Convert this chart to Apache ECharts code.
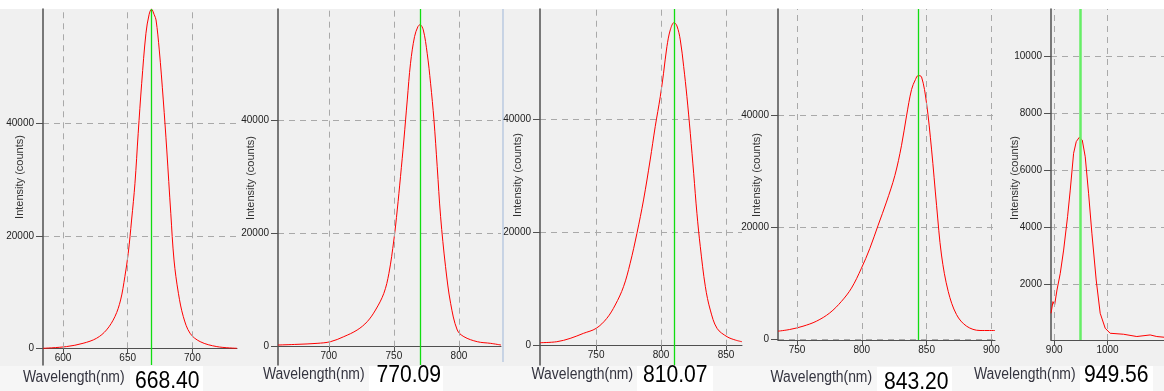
<!DOCTYPE html>
<html><head><meta charset="utf-8">
<script src="https://cdn.jsdelivr.net/npm/echarts@6/dist/echarts.min.js"></script>
<style>html,body{margin:0;padding:0;background:#fff}#c{width:1164px;height:391px}</style>
</head><body><div id="c"></div>
<script>
// ---------- data ----------
const peakWavelengths = [668.40, 770.09, 810.07, 843.20, 949.56];
const xAxisTitle = 'Wavelength(nm)';
const yAxisTitle = 'Intensity (counts)';

const spectrum1 = [[584.5,0],[602.6,300],[615.5,890],[625.9,1780],[633.6,3260],[640.1,5630],[644.5,8590],[647.8,12740],[650.4,16890],[653,22800],[655.6,29330],[658.1,38220],[660.8,47110],[664.1,56000],[666.5,59300],[668.4,60300],[670.5,59300],[671.9,58370],[674.4,53040],[677.5,44150],[680.2,35260],[683.3,24000],[685.8,15700],[689.2,9780],[693,5630],[698.2,2670],[706,1185],[718.9,300],[734.4,0]];
const spectrum2 = [[661,294],[675.6,412],[691,588],[701.3,880],[711.5,1765],[721.8,2940],[729.5,4410],[735.9,6470],[742.3,9410],[746.2,12940],[750,18820],[752.6,24120],[755.1,30000],[757.7,36470],[760.3,43530],[762.8,50000],[765.9,54700],[768.5,56470],[770.1,56800],[772.6,55880],[775.6,51760],[778.2,46470],[780.8,40000],[783.3,31760],[785.9,22940],[789.7,14120],[793.6,7650],[798.7,2940],[803.8,1765],[814.1,880],[824.4,588],[832.3,294]];
const spectrum3 = [[706.8,530],[719.7,706],[730,1290],[740.2,2180],[750,3060],[758.2,4820],[764.7,7180],[771.1,10410],[776.2,14530],[781.4,19820],[786.5,25710],[791.6,32760],[795.5,38650],[799.4,43940],[801.9,48060],[804.5,52760],[807.1,55710],[810,57000],[812.2,56410],[814.8,53940],[817.4,49240],[819.9,43940],[822.5,37470],[825.1,30410],[827.6,23350],[830.2,17470],[834.1,10410],[837.9,6290],[843.1,3060],[850.8,1590],[857.2,1000],[862.3,706]];
const spectrum4 = [[735.3,1380],[744.3,1680],[754.6,2270],[764.9,3160],[775.2,4640],[784.3,6720],[792,9090],[799.7,12650],[806.2,16210],[812.6,20360],[819,24500],[825.5,29250],[830.6,34590],[834.5,39930],[838.4,44670],[841.4,46450],[843.5,47160],[846.1,46920],[849.9,42300],[853.8,33990],[857.7,23910],[861.5,15020],[866.7,8500],[873.1,4350],[880.9,2270],[891.2,1500],[902.8,1500]];
const spectrum5 = [[894,984],[897.7,1393],[900.8,1276],[905.2,1800],[911.4,2385],[917.7,3200],[925.1,4370],[930.1,5300],[936.4,6590],[941.4,7000],[947,7150],[949.5,7195],[952.6,7055],[958.2,6470],[964.5,5190],[970.7,3790],[978.8,2150],[986.3,984],[995.7,460],[1005,284],[1030,250],[1055,170],[1080,225],[1092.5,170],[1106,145]];

const xTicks1 = [600, 650, 700];
const xTicks2 = [700, 750, 800];
const xTicks3 = [750, 800, 850];
const xTicks4 = [750, 800, 850, 900];
const xTicks5 = [900, 1000];
const yTicks1 = [0, 20000, 40000];
const yTicks2 = [0, 20000, 40000];
const yTicks3 = [0, 20000, 40000];
const yTicks4 = [0, 20000, 40000];
const yTicks5 = [2000, 4000, 6000, 8000, 10000];

const spectra = [spectrum1, spectrum2, spectrum3, spectrum4, spectrum5];
const xTicks = [xTicks1, xTicks2, xTicks3, xTicks4, xTicks5];
const yTicks = [yTicks1, yTicks2, yTicks3, yTicks4, yTicks5];

// ---------- layout ----------
const panels = [
  {grid:{left:43, top:9, width:194, height:356}, x:[584.5,734.5], y:[-2970,60320], zeroAxis:true,
   yTitle:[19.5,177], label:[23,377.5], box:[130,366,73,25], value:[135,381]},
  {grid:{left:278, top:9, width:223, height:356}, x:[661,832.3], y:[-3230,59570], zeroAxis:true,
   yTitle:[251,178], label:[263,374.5], box:[369,366,74,25], value:[376.5,375.5]},
  {grid:{left:540, top:9, width:202, height:356}, x:[706.8,862.3], y:[-3400,59390], zeroAxis:true,
   yTitle:[518,175], label:[531.5,375], box:[637,366,76,25], value:[643,375.5]},
  {grid:{left:778, top:9, width:217, height:331}, x:[735.3,902.8], y:[-200,59080], zeroAxis:false,
   yTitle:[757,175], label:[770.5,377.5], box:[877,367,75,24], value:[884,382]},
  {grid:{left:1051, top:9, width:113, height:331}, x:[894,1106], y:[48,11647], zeroAxis:false,
   yTitle:[1014.5,178], label:[974,374.5], box:[1080,366,73,25], value:[1084,375]}
];

const FONT = '"Liberation Sans", Arial, sans-serif';
const gridColor = '#a9a9a9';
const axisColor = '#505050';
const plain = v => String(v);

const grids = panels.map(p => Object.assign({containLabel:false}, p.grid));
const xAxes = panels.map((p, i) => {
  // place the x axis on the y = 0 level through the y scale
  const zeroOffset = p.zeroAxis ? -((0 - p.y[0]) / (p.y[1] - p.y[0])) * p.grid.height : 0;
  return {
    type:'value', gridIndex:i, min:p.x[0], max:p.x[1], position:'bottom', offset:zeroOffset,
    axisLine:{show:true, onZero:false, lineStyle:{color:axisColor, width:1}},
    axisTick:{show:true, customValues:xTicks[i], length:5, lineStyle:{color:axisColor}},
    axisLabel:{customValues:xTicks[i], formatter:plain, margin:5, fontSize:10, color:'#222', fontFamily:FONT},
    splitLine:{show:false}
  };
});
const yAxes = panels.map((p, i) => ({
  type:'value', gridIndex:i, min:p.y[0], max:p.y[1],
  axisLine:{show:true, onZero:false, lineStyle:{color:axisColor, width:1.5}},
  axisTick:{show:true, customValues:yTicks[i], length:7, lineStyle:{color:axisColor}},
  axisLabel:{customValues:yTicks[i], formatter:plain, margin:9, fontSize:10, color:'#222', fontFamily:FONT},
  splitLine:{show:true, lineStyle:{color:gridColor, type:[6,5], width:1}}
}));

const series = spectra.map((d, i) => {
  const p = panels[i];
  const vLines = xTicks[i].map(t => p.zeroAxis
    ? [{coord:[t, 0]}, {coord:[t, p.y[1]]}]
    : {xAxis:t});
  return {
    type:'line', xAxisIndex:i, yAxisIndex:i, data:d,
    symbol:'none', showSymbol:false,
    smooth: i < 4 ? 0.35 : false,
    lineStyle:{color:'#ff0000', width:1},
    silent:true, animation:false, z:3,
    markLine:{
      symbol:'none', silent:true, animation:false, label:{show:false},
      lineStyle:{color:gridColor, type:[6,5], width:1},
      emphasis:{disabled:true},
      data: vLines.concat([{xAxis:peakWavelengths[i],
        lineStyle: i < 4 ? {color:'#11dd11', type:'solid', width:1.3}
                         : {color:'#66ee66', type:'solid', width:2.5}}])
    }
  };
});

const graphics = [
  {type:'rect', shape:{x:0, y:0, width:1164, height:9}, style:{fill:'#ffffff'}, z:-10, silent:true},
  {type:'rect', shape:{x:0, y:366, width:1164, height:25}, style:{fill:'#f6f6f6'}, z:-10, silent:true},
  {type:'line', shape:{x1:503, y1:9, x2:503, y2:362}, style:{stroke:'#9fb7d9', lineWidth:1}, z:-5, silent:true}
];
panels.forEach((p, i) => {
  graphics.push({type:'text', x:p.yTitle[0], y:p.yTitle[1], rotation:Math.PI/2, silent:true,
    style:{text:yAxisTitle, font:'11px ' + FONT, fill:'#333', align:'center', verticalAlign:'middle', textAlign:'center', textVerticalAlign:'middle'}});
  graphics.push({type:'rect', shape:{x:p.box[0], y:p.box[1], width:p.box[2], height:p.box[3]}, style:{fill:'#ffffff'}, z:-4, silent:true});
  graphics.push({type:'text', x:p.label[0], y:p.label[1], scaleX:0.87, silent:true,
    style:{text:xAxisTitle, font:'16px ' + FONT, fill:'#34343f', align:'left', verticalAlign:'middle', textAlign:'left', textVerticalAlign:'middle'}});
  graphics.push({type:'text', x:p.value[0], y:p.value[1], scaleX:0.88, silent:true,
    style:{text:peakWavelengths[i].toFixed(2), font:'24px ' + FONT, fill:'#000', align:'left', verticalAlign:'middle', textAlign:'left', textVerticalAlign:'middle'}});
});

const chart = echarts.init(document.getElementById('c'), null, {renderer:'canvas'});
chart.setOption({
  backgroundColor:'#f0f0f0',
  animation:false,
  grid:grids, xAxis:xAxes, yAxis:yAxes, series:series,
  graphic:{elements:graphics}
});
</script></body></html>
